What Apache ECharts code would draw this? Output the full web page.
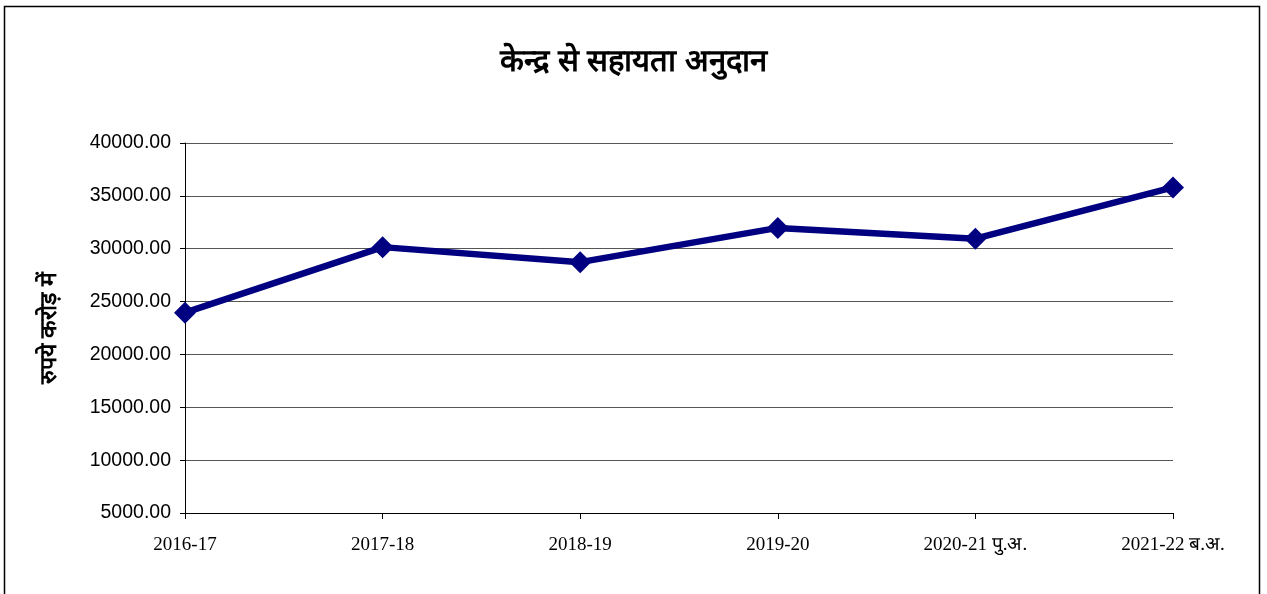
<!DOCTYPE html>
<html>
<head>
<meta charset="utf-8">
<script src="https://cdn.jsdelivr.net/npm/echarts@6/dist/echarts.min.js"></script>
<style>
  html, body { margin: 0; padding: 0; background: #fff; }
  #chart { width: 1267px; height: 594px; }
</style>
</head>
<body>
<div id="chart"></div>
<script>
// Grants-in-aid from the Centre (Rs. crore)
const years = ['2016-17', '2017-18', '2018-19', '2019-20', '2020-21 पु.अ.', '2021-22 ब.अ.'];
const grants = [23950, 30150, 28730, 31970, 30950, 35800];
const yMin = 5000;
const yMax = 40000;
const yStep = 5000;

const chart = echarts.init(document.getElementById('chart'));
chart.setOption({
  backgroundColor: '#fff',
  animation: false,
  title: {
    text: 'केन्द्र से सहायता अनुदान',
    left: 'center',
    top: 42,
    textStyle: { fontSize: 31, fontWeight: 'bold', color: '#000', fontFamily: 'sans-serif' }
  },
  graphic: [{
    type: 'rect',
    shape: { x: 4.5, y: 6.5, width: 1255, height: 600 },
    style: { fill: 'none', stroke: '#000', lineWidth: 1.5 },
    silent: true
  }],
  grid: { left: 185, right: 94, top: 143, bottom: 81 },
  xAxis: {
    type: 'category',
    data: years,
    boundaryGap: false,
    axisLine: { lineStyle: { color: '#000', width: 1 } },
    axisTick: { show: true, length: 6, lineStyle: { color: '#000' } },
    axisLabel: {
      margin: 23,
      fontSize: 19,
      color: '#000',
      fontFamily: '"Liberation Serif", "Times New Roman", serif'
    },
    splitLine: { show: false }
  },
  yAxis: {
    type: 'value',
    min: yMin,
    max: yMax,
    interval: yStep,
    name: 'रुपये करोड़ में',
    nameLocation: 'middle',
    nameGap: 124,
    nameRotate: 90,
    nameTextStyle: { fontSize: 23, fontWeight: 'bold', color: '#000' },
    axisLine: { show: true, lineStyle: { color: '#000', width: 1 } },
    axisTick: { show: true, inside: false, length: 5, lineStyle: { color: '#000' } },
    axisLabel: {
      margin: 14,
      fontSize: 19.5,
      color: '#000',
      fontFamily: '"Liberation Sans", Arial, sans-serif',
      formatter: v => v.toFixed(2)
    },
    splitLine: { show: true, lineStyle: { color: '#555', width: 1 } }
  },
  series: [{
    type: 'line',
    data: grants,
    symbol: 'diamond',
    symbolSize: 22,
    lineStyle: { color: '#000080', width: 6.5 },
    itemStyle: { color: '#000080' },
    z: 5
  }]
});
</script>
</body>
</html>
